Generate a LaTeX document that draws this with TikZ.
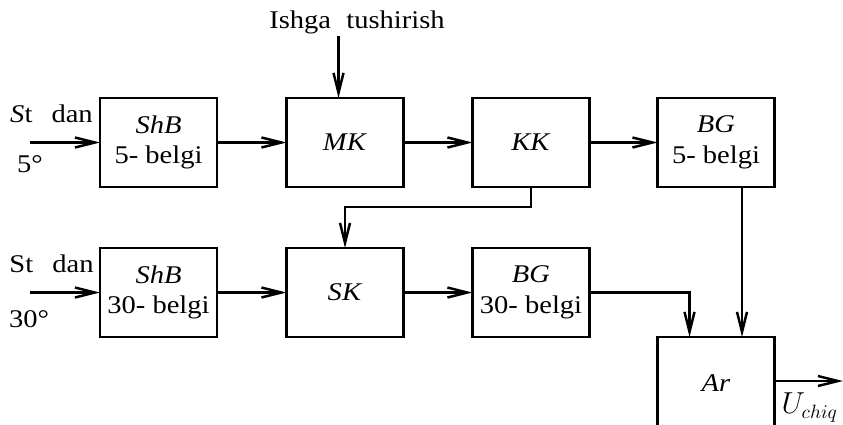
\documentclass[tikz,border=0pt]{standalone}
\usepackage{fontspec}
\setmainfont[FakeStretch=1.12]{Liberation Serif}
\usetikzlibrary{arrows.meta, positioning}
\tikzset{
    % blocks of the scheme
    blocknode/.style={
        draw, line width=1.4pt, align=center, outer sep=0pt,
        minimum width=2.34cm, minimum height=1.78cm,
        inner sep=1pt, font=\fontsize{14.5}{17.5}\selectfont
    },
    % arrows
    myarrow/.style={-{Straight Barb[length=4mm, width=2mm]}, line width=1.4pt},
    % input / output labels
    sidelabel/.style={font=\fontsize{14.5}{16}\selectfont, inner sep=1pt}
}

\begin{document}
\begin{tikzpicture}
\useasboundingbox (0,0) rectangle (16.86,8.48);

% ===== Upper row =====
\node (shb1) [blocknode] at (3.17,5.63) {\textit{ShB}\\5- belgi};
\node (mk) [blocknode, right=1.39cm of shb1] {\textit{MK}};
\node (kk) [blocknode, right=1.38cm of mk] {\textit{KK}};
\node (bg1) [blocknode, right=1.36cm of kk] {\textit{BG}\\5- belgi};

% ===== Lower row =====
\node (shb2) [blocknode, below=1.22cm of shb1] {\textit{ShB}\\30- belgi};
\node (sk) [blocknode, right=1.39cm of shb2] {\textit{SK}};
\node (bg2) [blocknode, right=1.38cm of sk] {\textit{BG}\\30- belgi};

% adder (runs off the lower edge)
\node (ar) [blocknode, anchor=north, minimum height=1.86cm] at (bg1.south |- bg2.south) {\textit{Ar}};

% ===== Inputs =====
\coordinate (in1) at ([xshift=-1.4cm]shb1.west);
\coordinate (in2) at ([xshift=-1.4cm]shb2.west);
\node (st1) [sidelabel] at (1.03,6.2) {\textit{S}t\hspace{0.75em}dan};
\node (deg1) [sidelabel] at (0.6,5.2) {5°};
\node (st2) [sidelabel] at (1.03,3.2) {St\hspace{0.75em}dan};
\node (deg2) [sidelabel] at (0.58,2.1) {30°};

\node (start) [sidelabel] at (7.14,8.03) {Ishga\hspace{0.6em}tushirish};
\coordinate (mkin) at ([xshift=-0.13cm]mk.north);

\draw[myarrow] (in1) -- (shb1);
\draw[myarrow] (in2) -- (shb2);
\draw[myarrow] (start.south -| mkin) -- (mkin);

% ===== Connections =====
\draw[myarrow] (shb1) -- (mk);
\draw[myarrow] (mk) -- (kk);
\draw[myarrow] (kk) -- (bg1);
\draw[myarrow] (shb2) -- (sk);
\draw[myarrow] (sk) -- (bg2);

\draw[myarrow] (kk.south) -- ++(0,-0.4) -| (sk.north);
\draw[myarrow] (bg2.east) -| ([xshift=-0.53cm]ar.north);
\draw[myarrow] ([xshift=0.52cm]bg1.south) -- ([xshift=0.52cm]ar.north);

% ===== Output =====
\coordinate (out) at (16.86,0.86);
\draw[myarrow] (ar.east |- out) -- (out);
\node (uout) [sidelabel, anchor=north east, font=\fontsize{16}{18}\selectfont] at (16.8,0.66) {$U_{chiq}$};

\end{tikzpicture}
\end{document}
